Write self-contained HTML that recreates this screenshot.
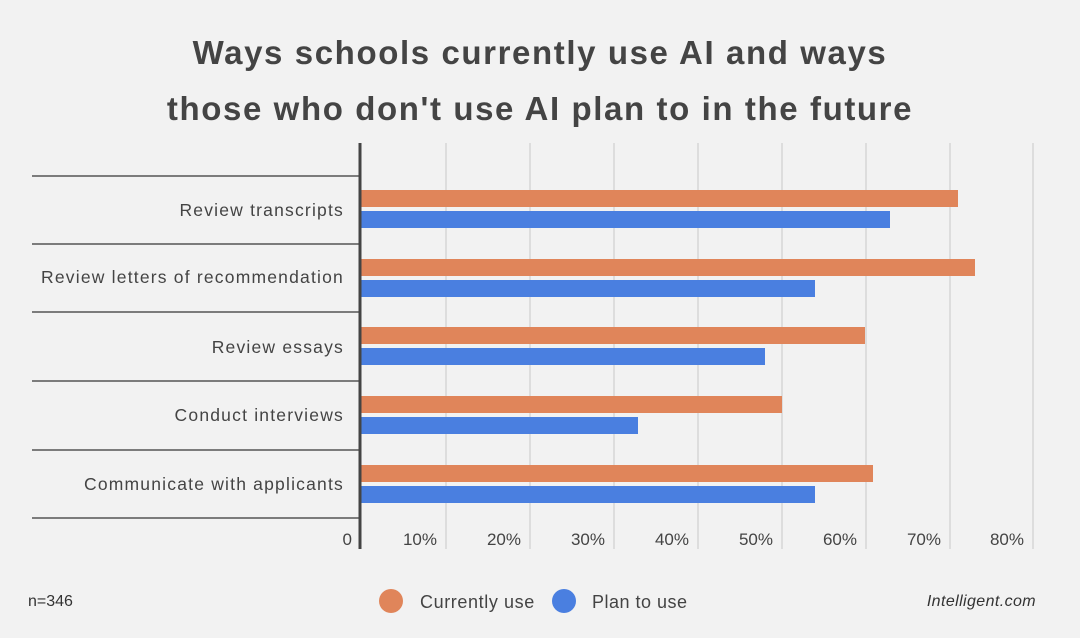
<!DOCTYPE html>
<html><head><meta charset="utf-8"><style>
html,body{margin:0;padding:0;background:#f2f2f2;}
body{width:1080px;height:638px;position:relative;overflow:hidden;font-family:"Liberation Sans",sans-serif;color:#444;}
</style></head><body>
<svg width="1080" height="638" xmlns="http://www.w3.org/2000/svg" style="position:absolute;left:0;top:0">
<rect width="1080" height="638" fill="#f2f2f2"/>
<g font-family="Liberation Sans, sans-serif" font-weight="bold" font-size="33" fill="#444" text-anchor="middle" letter-spacing="1.6">
<text x="540" y="64">Ways schools currently use AI and ways</text>
<text x="540" y="120">those who don't use AI plan to in the future</text>
</g>
<g stroke="#d6d6d6" stroke-width="1.5">
<line x1="446" y1="143" x2="446" y2="549"/>
<line x1="530" y1="143" x2="530" y2="549"/>
<line x1="614" y1="143" x2="614" y2="549"/>
<line x1="698" y1="143" x2="698" y2="549"/>
<line x1="782" y1="143" x2="782" y2="549"/>
<line x1="866" y1="143" x2="866" y2="549"/>
<line x1="950" y1="143" x2="950" y2="549"/>
<line x1="1033" y1="143" x2="1033" y2="549"/>
</g>
<g stroke="#555" stroke-width="1.5">
<line x1="32" y1="176" x2="360" y2="176"/>
<line x1="32" y1="244" x2="360" y2="244"/>
<line x1="32" y1="312" x2="360" y2="312"/>
<line x1="32" y1="381" x2="360" y2="381"/>
<line x1="32" y1="450" x2="360" y2="450"/>
<line x1="32" y1="518" x2="360" y2="518"/>
</g>
<g fill="#e0855a">
<rect x="361" y="190" width="597" height="17"/>
<rect x="361" y="259" width="614" height="17"/>
<rect x="361" y="327" width="504" height="17"/>
<rect x="361" y="396" width="421" height="17"/>
<rect x="361" y="465" width="512" height="17"/>
</g>
<g fill="#4a7fe0">
<rect x="361" y="211" width="529" height="17"/>
<rect x="361" y="280" width="454" height="17"/>
<rect x="361" y="348" width="404" height="17"/>
<rect x="361" y="417" width="277" height="17"/>
<rect x="361" y="486" width="454" height="17"/>
</g>
<line x1="360" y1="143" x2="360" y2="549" stroke="#444" stroke-width="3"/>
<g font-size="17.5" fill="#444" text-anchor="end" letter-spacing="1.2">
<text x="344" y="216">Review transcripts</text>
<text x="344" y="283">Review letters of recommendation</text>
<text x="344" y="353">Review essays</text>
<text x="344" y="421">Conduct interviews</text>
<text x="344" y="490">Communicate with applicants</text>
</g>
<g font-size="17" fill="#444" text-anchor="end">
<text x="352" y="545">0</text>
<text x="437" y="545">10%</text>
<text x="521" y="545">20%</text>
<text x="605" y="545">30%</text>
<text x="689" y="545">40%</text>
<text x="773" y="545">50%</text>
<text x="857" y="545">60%</text>
<text x="941" y="545">70%</text>
<text x="1024" y="545">80%</text>
</g>
<text x="28" y="606" font-size="16" fill="#333">n=346</text>
<ellipse cx="391" cy="601" rx="12" ry="12" fill="#e0855a"/>
<text x="420" y="608" font-size="18" fill="#444" letter-spacing="0.6">Currently use</text>
<ellipse cx="564" cy="601" rx="12" ry="12" fill="#4a7fe0"/>
<text x="592" y="608" font-size="18" fill="#444" letter-spacing="0.5">Plan to use</text>
<text x="1036" y="606" font-size="16" font-style="italic" fill="#333" text-anchor="end" letter-spacing="0.4">Intelligent.com</text>
</svg>
</body></html>
